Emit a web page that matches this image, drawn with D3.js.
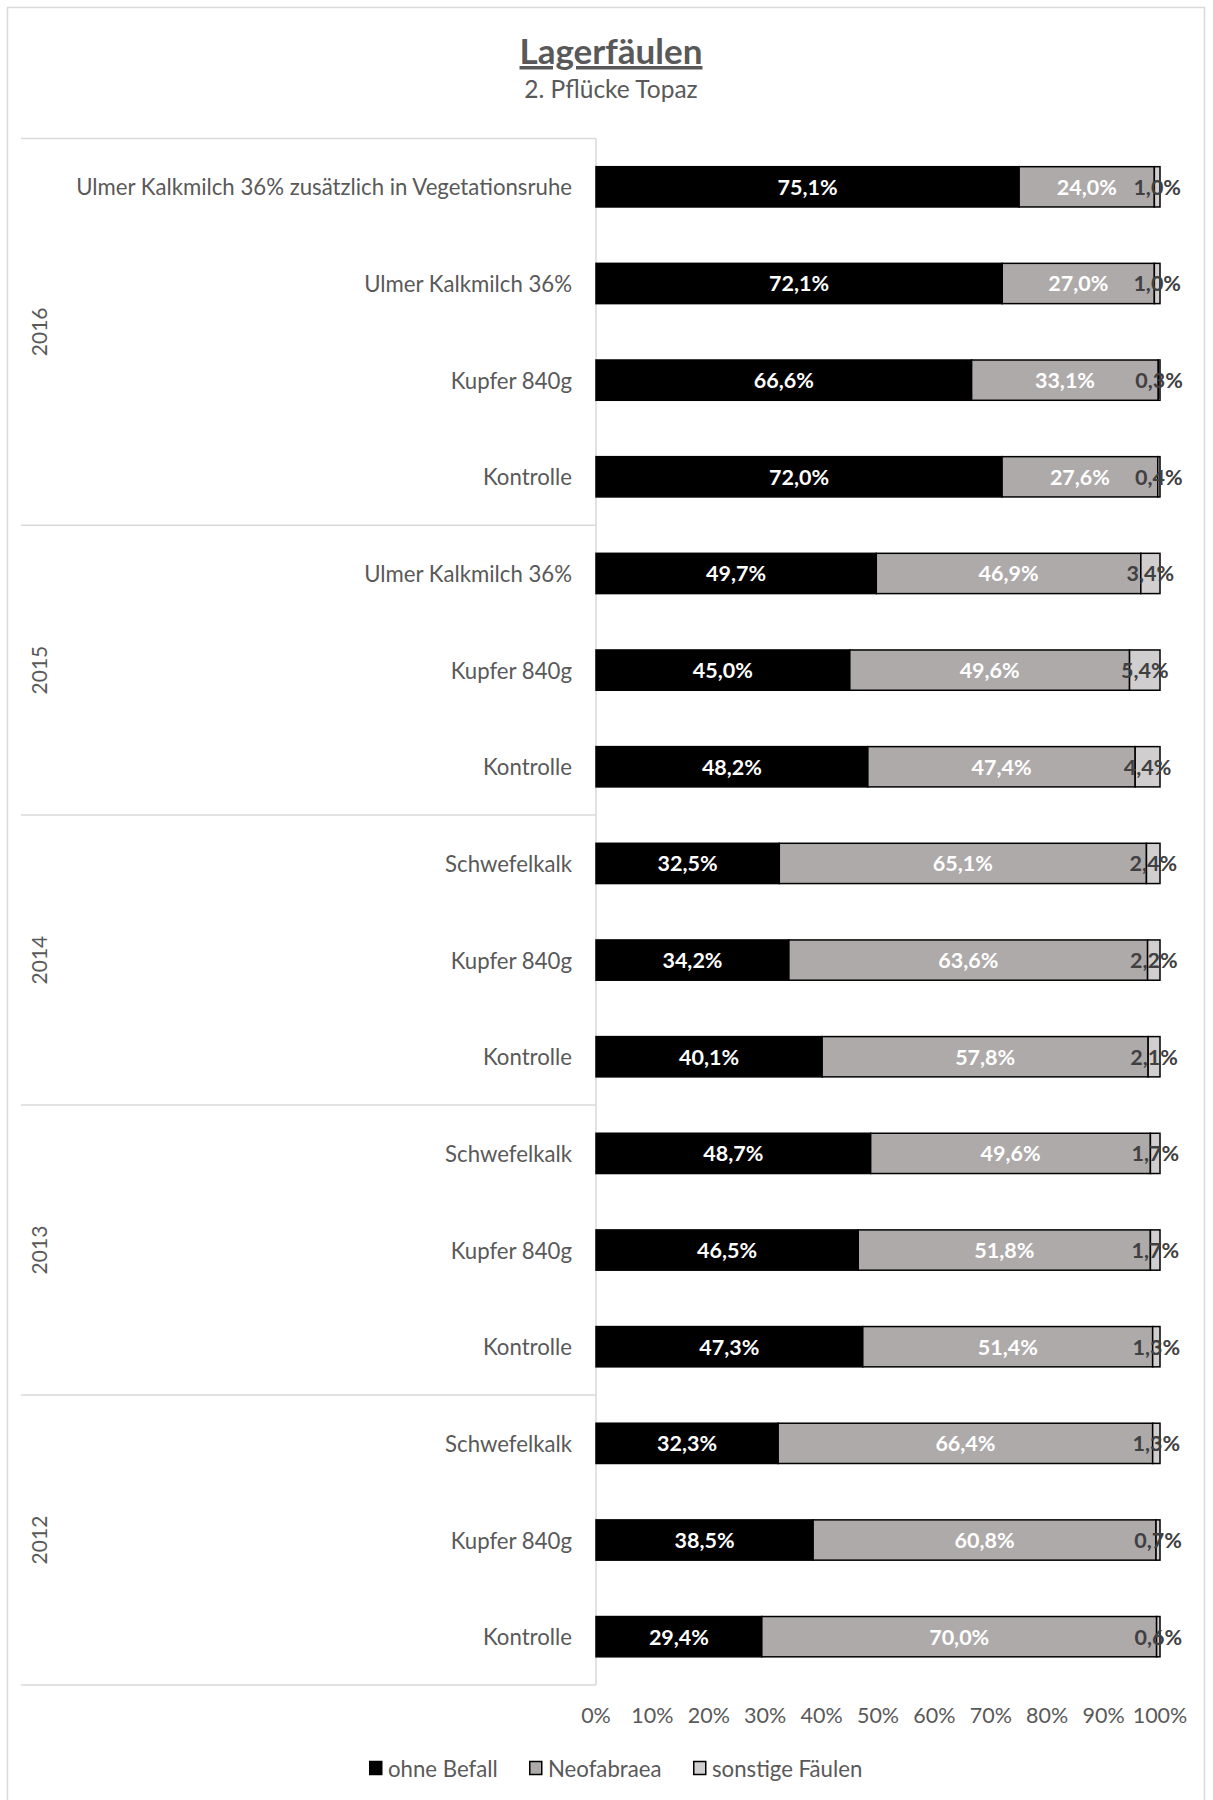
<!DOCTYPE html>
<html>
<head>
<meta charset="utf-8">
<script src="https://cdn.jsdelivr.net/npm/d3@7"></script>
<style>
  html, body { margin: 0; padding: 0; background: #fff; }
  svg { display: block; }
  text { font-family: Lato, "Open Sans", "Noto Sans", sans-serif; }
</style>
</head>
<body>
<svg id="chart" width="1213" height="1800"></svg>
<script>
// Storage rot results, 2nd picking of Topaz, grouped by year (top to bottom)
const years = ["2016", "2015", "2014", "2013", "2012"];
const treatments = [
  ["Ulmer Kalkmilch 36% zusätzlich in Vegetationsruhe", "Ulmer Kalkmilch 36%", "Kupfer 840g", "Kontrolle"],
  ["Ulmer Kalkmilch 36%", "Kupfer 840g", "Kontrolle"],
  ["Schwefelkalk", "Kupfer 840g", "Kontrolle"],
  ["Schwefelkalk", "Kupfer 840g", "Kontrolle"],
  ["Schwefelkalk", "Kupfer 840g", "Kontrolle"]
];
// Percent shares per bar, in the same order as the treatments
const ohneBefall = [75.1, 72.1, 66.6, 72.0, 49.7, 45.0, 48.2, 32.5, 34.2, 40.1, 48.7, 46.5, 47.3, 32.3, 38.5, 29.4];
const neofabraea = [24.0, 27.0, 33.1, 27.6, 46.9, 49.6, 47.4, 65.1, 63.6, 57.8, 49.6, 51.8, 51.4, 66.4, 60.8, 70.0];
const sonstige   = [1.0, 1.0, 0.3, 0.4, 3.4, 5.4, 4.4, 2.4, 2.2, 2.1, 1.7, 1.7, 1.3, 1.3, 0.7, 0.6];
const seriesNames = ["ohne Befall", "Neofabraea", "sonstige Fäulen"];
const tickValues = [0, 0.1, 0.2, 0.3, 0.4, 0.5, 0.6, 0.7, 0.8, 0.9, 1.0];

const seriesFill = ["#000000", "#AEAAAA", "#D0CECE"];
const labelFill = ["#FFFFFF", "#FFFFFF", "#404040"];
const textGray = "#595959";
const lineGray = "#D9D9D9";

// flatten rows
const rows = [];
let k = 0;
years.forEach((yr, gi) => {
  treatments[gi].forEach((t, ti) => {
    rows.push({ id: k, year: yr, group: gi, name: t,
                values: [ohneBefall[k], neofabraea[k], sonstige[k]] });
    k++;
  });
});

const svg = d3.select("#chart");

// chart frame
svg.append("rect")
  .attr("x", 7.5).attr("y", 7.5)
  .attr("width", 1197).attr("height", 1810)
  .attr("fill", "#fff").attr("stroke", lineGray).attr("stroke-width", 1.5);

// title + subtitle
svg.append("text")
  .attr("x", 611).attr("y", 64)
  .attr("text-anchor", "middle")
  .attr("font-size", 35).attr("font-weight", "bold")
  .attr("text-decoration", "underline")
  .attr("fill", textGray)
  .text("Lagerfäulen");
svg.append("text")
  .attr("x", 611).attr("y", 98)
  .attr("text-anchor", "middle")
  .attr("font-size", 24.5)
  .attr("fill", textGray)
  .text("2. Pflücke Topaz");

const plot = { x0: 596, x1: 1160, y0: 138.5, y1: 1685 };

const x = d3.scaleLinear().domain([0, 1]).range([plot.x0, plot.x1]);
const y = d3.scaleBand()
  .domain(rows.map(r => r.id))
  .range([plot.y0, plot.y1])
  .paddingInner(0.5833)
  .paddingOuter(0.29165);

// category axis frame: top line, group separators and vertical axis line
const groupBounds = [];
let start = 0;
treatments.forEach((list, gi) => {
  const first = rows[start].id, last = rows[start + list.length - 1].id;
  const top = y(first) - y.step() * y.paddingInner() / 2;
  const bottom = y(last) + y.bandwidth() + y.step() * y.paddingInner() / 2;
  groupBounds.push({ year: years[gi], top, bottom });
  start += list.length;
});

const axisG = svg.append("g");
axisG.append("line")
  .attr("x1", plot.x0).attr("x2", plot.x0)
  .attr("y1", plot.y0).attr("y2", plot.y1)
  .attr("stroke", lineGray).attr("stroke-width", 1.5);
axisG.selectAll("line.sep")
  .data([plot.y0].concat(groupBounds.map(g => g.bottom)))
  .join("line")
  .attr("class", "sep")
  .attr("x1", 21).attr("x2", plot.x0)
  .attr("y1", d => d).attr("y2", d => d)
  .attr("stroke", lineGray).attr("stroke-width", 1.5);

// year labels
axisG.selectAll("text.year")
  .data(groupBounds)
  .join("text")
  .attr("class", "year")
  .attr("transform", d => `translate(38,${(d.top + d.bottom) / 2}) rotate(-90)`)
  .attr("text-anchor", "middle")
  .attr("dominant-baseline", "central")
  .attr("font-size", 21)
  .attr("fill", textGray)
  .text(d => d.year);

// treatment labels
axisG.selectAll("text.cat")
  .data(rows)
  .join("text")
  .attr("class", "cat")
  .attr("x", 572)
  .attr("y", d => y(d.id) + y.bandwidth() / 2)
  .attr("text-anchor", "end")
  .attr("dominant-baseline", "central")
  .attr("font-size", 22.2)
  .attr("fill", textGray)
  .text(d => d.name);

// 100% stacked segments
const segs = [];
rows.forEach(r => {
  const total = d3.sum(r.values);
  let acc = 0;
  r.values.forEach((v, si) => {
    segs.push({ row: r, si, v, a: acc / total, b: (acc + v) / total });
    acc += v;
  });
});

const barG = svg.append("g");
barG.selectAll("rect")
  .data(segs)
  .join("rect")
  .attr("x", d => x(d.a))
  .attr("y", d => y(d.row.id))
  .attr("width", d => x(d.b) - x(d.a))
  .attr("height", y.bandwidth())
  .attr("fill", d => seriesFill[d.si])
  .attr("stroke", "#000").attr("stroke-width", 1.5);

const fmt = v => v.toFixed(1).replace(".", ",") + "%";
barG.selectAll("text")
  .data(segs)
  .join("text")
  .attr("x", d => (x(d.a) + x(d.b)) / 2)
  .attr("y", d => y(d.row.id) + y.bandwidth() / 2)
  .attr("text-anchor", "middle")
  .attr("dominant-baseline", "central")
  .attr("font-size", 21.5).attr("font-weight", "bold")
  .attr("fill", d => labelFill[d.si])
  .text(d => fmt(d.v));

// value axis tick labels
svg.append("g")
  .selectAll("text")
  .data(tickValues)
  .join("text")
  .attr("x", d => x(d))
  .attr("y", 1715)
  .attr("text-anchor", "middle")
  .attr("dominant-baseline", "central")
  .attr("font-size", 21.5)
  .attr("fill", textGray)
  .text(d => d3.format(".0%")(d));

// legend
const legendX = [369, 529, 693];
const legend = svg.append("g");
const li = legend.selectAll("g")
  .data(seriesNames)
  .join("g")
  .attr("transform", (d, i) => `translate(${legendX[i]},1768)`);
li.append("rect")
  .attr("x", 0.75).attr("y", -6.5)
  .attr("width", 12).attr("height", 13)
  .attr("fill", (d, i) => seriesFill[i])
  .attr("stroke", "#000").attr("stroke-width", 1.5);
li.append("text")
  .attr("x", 19).attr("y", 0)
  .attr("dominant-baseline", "central")
  .attr("font-size", 22.2)
  .attr("fill", textGray)
  .text(d => d);
</script>
</body>
</html>
